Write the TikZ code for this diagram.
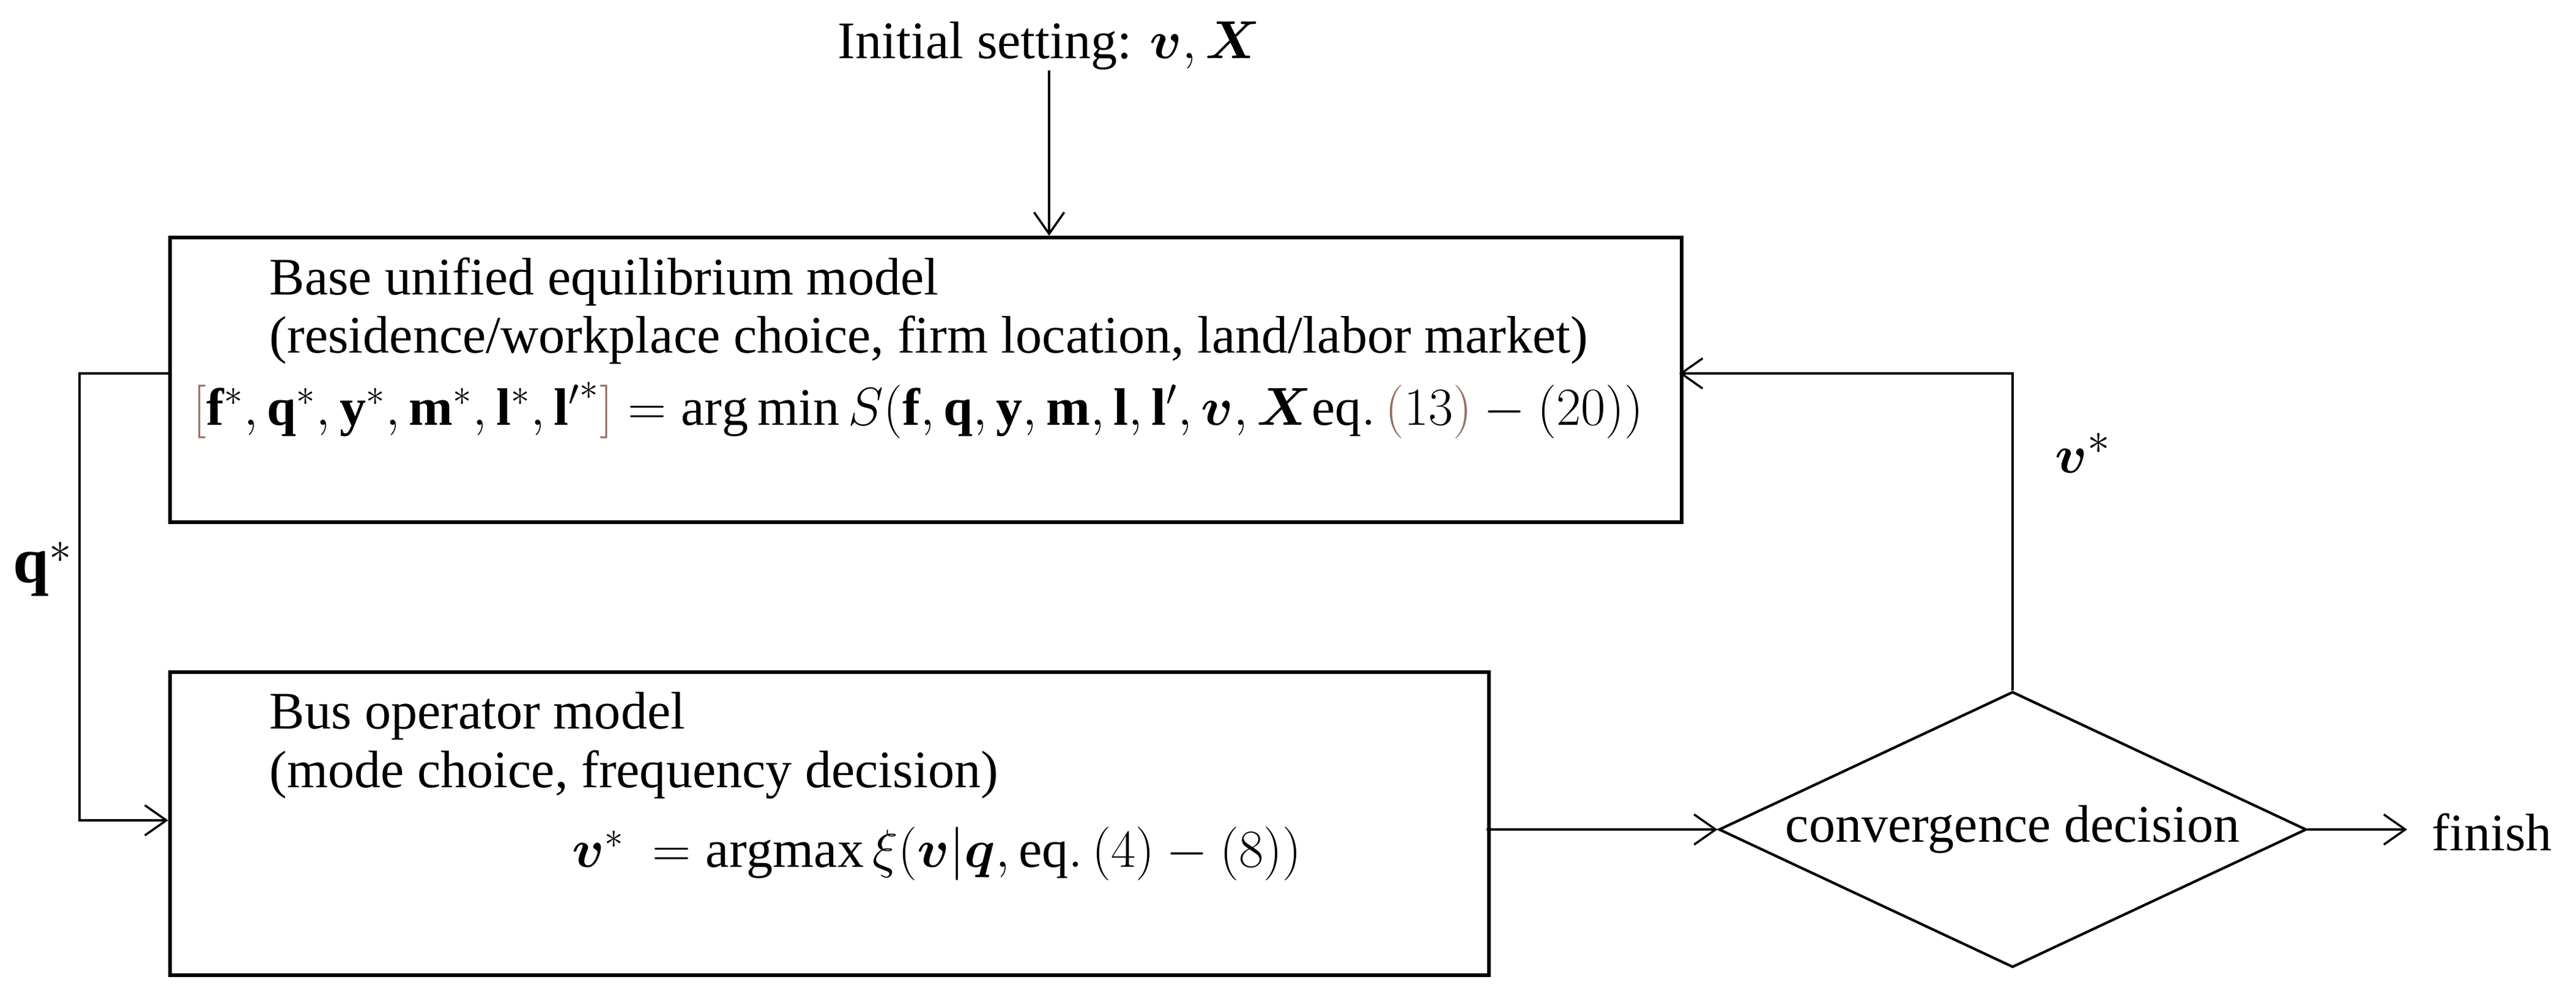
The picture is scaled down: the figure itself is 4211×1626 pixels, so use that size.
\documentclass[tikz,border=0pt]{standalone}
\usepackage{amsmath,bm}
\usepackage{fontspec}
\setmainfont{Liberation Serif}
\usetikzlibrary{shapes.geometric,arrows.meta}
\definecolor{br}{RGB}{150,110,100}
\begin{document}
\begin{tikzpicture}[x=0.01cm,y=-0.01cm,
  every node/.style={font=\fontsize{24.5}{29}\selectfont,inner sep=0},
  box/.style={draw,line width=1.6pt},
  ln/.style={line width=1pt,-{Straight Barb[length=10pt,width=14pt]}}]
\useasboundingbox (0,0) rectangle (4211,1626);
\node[box,anchor=north west,minimum width=24.7cm,minimum height=4.65cm] (top) at (275,385) {};
\node[box,anchor=north west,minimum width=21.55cm,minimum height=4.95cm] (bot) at (275,1095) {};
\node[draw,line width=1.2pt,diamond,minimum width=9.6cm,minimum height=4.5cm,inner sep=0] (dec) at (3290,1355) {};
\node at (dec) {convergence decision};
\node (init) at (1715,75) {Initial setting: $\bm{v},\bm{X}$};
\coordinate (tin) at (1715,385);
\draw[ln] (init) -- (tin);
\node[anchor=west] (t1) at (440,460) {Base unified equilibrium model};
\node[anchor=west] (t2) at (440,555) {(residence/workplace choice, firm location, land/labor market)};
\node[anchor=west] (t3) at (315,670) {$\textcolor{br}{[}\mathbf{f}^*,\mathbf{q}^*,\mathbf{y}^*,\mathbf{m}^*,\mathbf{l}^*,\mathbf{l'}^*\textcolor{br}{]}=\arg\min S(\mathbf{f},\mathbf{q},\mathbf{y},\mathbf{m},\mathbf{l},\mathbf{l}',\bm{v},\bm{X}\mathrm{eq.}\,\textcolor{br}{(}13\textcolor{br}{)}-(20))$};
\node[anchor=west] (b1) at (440,1170) {Bus operator model};
\node[anchor=west] (b2) at (440,1265) {(mode choice, frequency decision)};
\node[anchor=west] (b3) at (935,1395) {$\bm{v}^*\ =\mathrm{argmax}\,\xi(\bm{v}|\bm{q},\mathrm{eq.}\,(4)-(8))$};
\coordinate (lt) at (275,610);
\coordinate (lb) at (275,1340);
\draw[ln] (lt) -- (130,610) -- (130,1340) -- (lb);
\node (qs) at (70,930) {\fontsize{30}{34}\selectfont$\mathbf{q}^*$};
\coordinate (rt) at (2745,610);
\draw[ln] (dec.north) -- (3290,610) -- (rt);
\node (vs) at (3405,740) {\fontsize{30}{34}\selectfont$\bm{v}^*$};
\coordinate (bo) at (2430,1355);
\draw[ln] (bo) -- (dec.west);
\coordinate (fe) at (3935,1355);
\draw[ln] (dec.east) -- (fe);
\node[anchor=west] (fin) at (3975,1360) {finish};
\end{tikzpicture}
\end{document}
